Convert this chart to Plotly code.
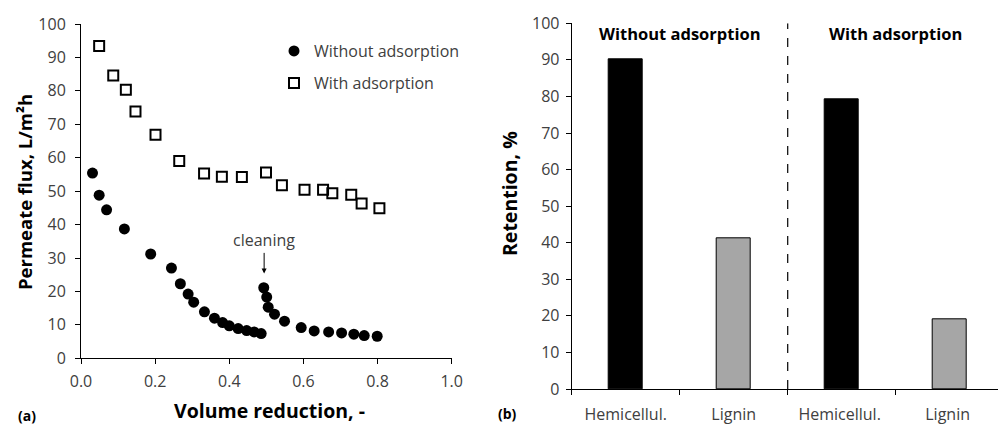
import plotly.graph_objects as go

# ---------------- data ----------------
vr_without = [0.031, 0.049, 0.069, 0.117, 0.188, 0.244, 0.268, 0.289, 0.304, 0.333,
              0.360, 0.382, 0.400, 0.424, 0.447, 0.467, 0.486,
              0.493, 0.501, 0.505, 0.522, 0.549, 0.594, 0.629, 0.668, 0.703, 0.736, 0.764, 0.799]
flux_without = [55.4, 48.8, 44.4, 38.7, 31.2, 27.0, 22.3, 19.2, 16.8, 13.9,
                12.0, 10.7, 9.7, 8.9, 8.3, 7.9, 7.4,
                21.1, 18.3, 15.3, 13.2, 11.1, 9.2, 8.2, 7.9, 7.6, 7.2, 6.8, 6.6]

vr_with = [0.049, 0.087, 0.121, 0.147, 0.201, 0.265, 0.332, 0.380, 0.434, 0.499,
           0.542, 0.603, 0.653, 0.678, 0.729, 0.757, 0.805]
flux_with = [93.4, 84.6, 80.3, 73.8, 66.9, 59.0, 55.3, 54.3, 54.2, 55.6,
             51.8, 50.4, 50.4, 49.4, 48.9, 46.3, 44.9]

components = ["Hemicellul.", "Lignin", "Hemicellul. ", "Lignin "]
retention = [90.2, 41.2, 79.3, 19.1]
bar_colors = ["black", "#a6a6a6", "black", "#a6a6a6"]

FONT = "Open Sans"
TICKC = "#404040"

fig = go.Figure()

fig.add_trace(go.Scatter(
    x=vr_without, y=flux_without, mode="markers", name="Without adsorption",
    marker=dict(symbol="circle", size=11, color="black"),
    xaxis="x", yaxis="y", legend="legend"))
fig.add_trace(go.Scatter(
    x=vr_with, y=flux_with, mode="markers", name="With adsorption",
    marker=dict(symbol="square-open", size=10, color="black", line=dict(width=2, color="black")),
    xaxis="x", yaxis="y", legend="legend2"))

fig.add_trace(go.Bar(
    x=components, y=retention, width=0.32,
    marker=dict(color=bar_colors, line=dict(color="black", width=1)),
    xaxis="x2", yaxis="y2", showlegend=False))

def axis_common(size=16):
    return dict(showgrid=False, zeroline=False, showline=True, linecolor="black", linewidth=1,
                ticks="outside", ticklen=5, tickcolor="black", tickwidth=1, automargin=False,
                tickfont=dict(family=FONT, size=size, color=TICKC))

fig.update_layout(
    width=998, height=426, margin=dict(l=0, r=0, t=0, b=0, autoexpand=False),
    paper_bgcolor="white", plot_bgcolor="white",
    font=dict(family=FONT, size=16, color="black"),
    bargap=0,
    xaxis=dict(domain=[81/998, 451.7/998], range=[0, 1.0], dtick=0.2, tickformat=".1f",
               anchor="y", ticklabelstandoff=3, **axis_common(16)),
    yaxis=dict(domain=[1-358.3/426, 1-24/426], range=[0, 100], dtick=10,
               anchor="x", ticklabelstandoff=6, **axis_common(16)),
    xaxis2=dict(domain=[571.7/998, 1.0], range=[-0.5, 3.447], type="category",
                tickson="boundaries", anchor="y2", ticklabelstandoff=11, **axis_common(16)),
    yaxis2=dict(domain=[1-389/426, 1-23.3/426], range=[0, 100], dtick=10,
                anchor="x2", ticklabelstandoff=3, **axis_common(16)),
    legend=dict(x=274/998, y=1-34/426, xanchor="left", yanchor="top", itemwidth=30,
                bgcolor="rgba(0,0,0,0)", font=dict(family=FONT, size=16, color=TICKC)),
    legend2=dict(x=274/998, y=1-66/426, xanchor="left", yanchor="top", itemwidth=30,
                 bgcolor="rgba(0,0,0,0)", font=dict(family=FONT, size=16, color=TICKC)),
)

# dashed separator in bar chart
fig.add_shape(type="line", xref="x2", yref="y2", x0=1.5, x1=1.5, y0=0, y1=100,
              line=dict(color="black", width=1.2, dash="dash"))

ann = []
# cleaning arrow
ann.append(dict(x=0.494, y=25.4, xref="x", yref="y", text="cleaning", showarrow=True,
                ax=0, ay=-33, arrowhead=2, arrowsize=1, arrowwidth=1, arrowcolor="black",
                font=dict(family=FONT, size=16, color=TICKC)))
# group labels
ann.append(dict(x=0.5, y=97.3, xref="x2", yref="y2", text="<b>Without adsorption</b>",
                showarrow=False, xanchor="center", yanchor="middle",
                font=dict(family=FONT, size=16.5, color="black")))
ann.append(dict(x=2.5, y=97.3, xref="x2", yref="y2", text="<b>With adsorption</b>",
                showarrow=False, xanchor="center", yanchor="middle",
                font=dict(family=FONT, size=16.5, color="black")))
# axis titles
ann.append(dict(x=269/998, y=1-410/426, xref="paper", yref="paper",
                text="<b>Volume reduction, -</b>", showarrow=False,
                xanchor="center", yanchor="middle",
                font=dict(family=FONT, size=19.5, color="black")))
ann.append(dict(x=24/998, y=1-192/426, xref="paper", yref="paper",
                text="<b>Permeate flux, L/m²h</b>", showarrow=False, textangle=-90,
                xanchor="center", yanchor="middle",
                font=dict(family=FONT, size=18.5, color="black")))
ann.append(dict(x=509/998, y=1-194/426, xref="paper", yref="paper",
                text="<b>Retention, %</b>", showarrow=False, textangle=-90,
                xanchor="center", yanchor="middle",
                font=dict(family=FONT, size=19.5, color="black")))
# panel labels
ann.append(dict(x=27/998, y=1-415/426, xref="paper", yref="paper", text="<b>(a)</b>",
                showarrow=False, xanchor="center", yanchor="middle",
                font=dict(family=FONT, size=14, color="black")))
ann.append(dict(x=508/998, y=1-413/426, xref="paper", yref="paper", text="<b>(b)</b>",
                showarrow=False, xanchor="center", yanchor="middle",
                font=dict(family=FONT, size=14, color="black")))
fig.update_layout(annotations=ann)

fig.write_html("out.html", config={"displayModeBar": False},
               post_script="document.body.style.margin='0';document.body.style.overflow='hidden';")
